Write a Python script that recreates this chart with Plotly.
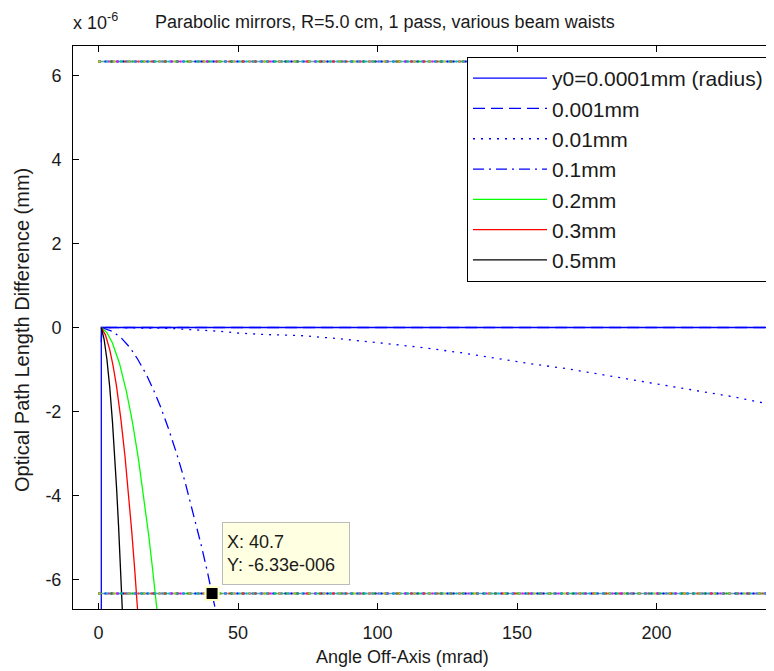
import plotly.graph_objects as go

# ---- data (OPD in units of 1e-6 mm, angle in mrad) ----
theta_a = [1.0, 1.0, 250.0]
opd_a = [-7.5, 0.0, 0.0]

theta_b = [1.0, 1.0, 1.2, 60.0, 120.0, 180.0, 250.0]
opd_b = [-0.35, -0.05, 0.0, 0.0, 0.0, 0.0, 0.0]

theta_c = [1, 10, 20, 25.6, 33, 41, 43.5, 49.5, 60.3, 72.2, 85, 100, 115, 130, 143.9, 155.7, 167.8, 179.9,
           191.6, 203.7, 215.8, 227.6, 243]
opd_c = [0, -0.005, -0.01, -0.02, -0.05, -0.07, -0.09, -0.13, -0.17, -0.19, -0.26, -0.36, -0.47, -0.60, -0.75,
         -0.87, -0.98, -1.12, -1.24, -1.38, -1.52, -1.65, -1.86]

theta_d = [1, 5, 8.3, 11.3, 14, 17.3, 20, 22.2, 25, 28.2, 31, 34.3, 37, 39.2, 40.7, 42.5]
opd_d = [0, -0.09, -0.26, -0.48, -0.75, -1.14, -1.53, -1.88, -2.39, -3.04, -3.67, -4.49, -5.23, -5.87, -6.33, -6.9]

theta_e = [1, 3, 5, 7.5, 10, 12, 14.3, 16, 18, 19.3, 20.35, 21.2]
opd_e = [0, -0.12, -0.37, -0.85, -1.52, -2.19, -3.12, -3.91, -4.95, -5.7, -6.33, -6.87]

theta_f = [1, 2.5, 4, 5.2, 6.4, 8, 9.5, 10.8, 11.9, 13, 13.6, 14.3]
opd_f = [0, -0.18, -0.52, -0.9, -1.37, -2.17, -3.07, -3.98, -4.84, -5.78, -6.33, -7.0]

theta_g = [1, 2, 3, 4, 5, 5.8, 6.5, 7.2, 7.8, 8.3, 8.7]
opd_g = [0, -0.28, -0.75, -1.4, -2.24, -3.04, -3.85, -4.74, -5.58, -6.33, -6.96]

labels = ["y0=0.0001mm (radius)", "0.001mm", "0.01mm", "0.1mm", "0.2mm", "0.3mm", "0.5mm"]

x_tickvals = [0, 50, 100, 150, 200]
x_ticktext = ["0", "50", "100", "150", "200"]
y_tickvals = [-6, -4, -2, 0, 2, 4, 6]
y_ticktext = ["-6", "-4", "-2", "0", "2", "4", "6"]

theta_ref = [0.0, 250.0]
ref_levels = [6.33, -6.33]

tip_x = 40.7
tip_y = -6.33

# ---- figure ----
W, H = 774, 671
OFF = 8  # page body margin offset
L, R, T, B = 65, 8, 38, 70
pw, ph = W - L - R, H - T - B


def px(sx):
    return (sx - OFF - L) / pw


def py(sy):
    return (H - B - (sy - OFF)) / ph


FONT = "Liberation Sans, Arial, sans-serif"
TXT = "#1a1a1a"
fig = go.Figure()

series = [
    (theta_a, opd_a, "#0000FF", "solid"),
    (theta_b, opd_b, "#0000FF", "12px,6px"),
    (theta_c, opd_c, "#0000FF", "2px,6px"),
    (theta_d, opd_d, "#0000FF", "11px,5px,2px,5px"),
    (theta_e, opd_e, "#00FF00", "solid"),
    (theta_f, opd_f, "#FF0000", "solid"),
    (theta_g, opd_g, "#000000", "solid"),
]
for i, (xs, ys, col, dash) in enumerate(series):
    fig.add_trace(go.Scatter(
        x=xs, y=ys, mode="lines", name=labels[i], legendgroup=f"g{i}",
        line=dict(color=col, width=1.3, dash=dash),
    ))

# multi-coloured dotted reference lines
overlays = [
    ("#5ea6a8", "solid", 1.5),
    ("#0000FF", "2px,4px", 2),
    ("#FF00FF", "2px,7px", 2),
    ("#00C000", "2px,9px", 2),
    ("#FF3000", "2px,11px", 2),
    ("#00C0C0", "2px,5px", 2),
    ("#C8C800", "2px,13px", 2),
]
for lev in ref_levels:
    for col, dash, w in overlays:
        fig.add_trace(go.Scatter(
            x=theta_ref, y=[lev, lev], mode="lines", showlegend=False,
            line=dict(color=col, width=w, dash=dash), hoverinfo="skip",
        ))

fig.add_trace(go.Scatter(
    x=[tip_x], y=[tip_y], mode="markers", showlegend=False,
    marker=dict(symbol="square", size=13, color="black",
                line=dict(color="#FFFFC8", width=2)),
))

axis_common = dict(
    showgrid=False, zeroline=False, showline=True, linecolor="black", linewidth=1,
    ticks="inside", ticklen=6, tickcolor="black", tickwidth=1,
    tickfont=dict(family=FONT, size=18, color=TXT),
    ticklabelstandoff=7,
)
fig.update_layout(
    width=W, height=H,
    margin=dict(l=L, r=R, t=T, b=B),
    paper_bgcolor="white", plot_bgcolor="white",
    xaxis=dict(range=[-9.14, 242.1], tickvals=x_tickvals, ticktext=x_ticktext,
               mirror="ticks", **axis_common),
    yaxis=dict(range=[-6.7, 6.7], tickvals=y_tickvals, ticktext=y_ticktext,
               mirror=False, **axis_common),
    showlegend=True,
    legend=dict(
        x=px(467), y=py(57), xanchor="left", yanchor="top",
        bgcolor="white", bordercolor="black", borderwidth=1,
        font=dict(family=FONT, size=21, color=TXT),
        tracegroupgap=0, itemwidth=74,
    ),
    annotations=[
        dict(text="Parabolic mirrors, R=5.0 cm, 1 pass, various beam waists",
             x=px(385), y=py(22), xref="paper", yref="paper",
             xanchor="center", yanchor="middle", showarrow=False,
             font=dict(family=FONT, size=18, color=TXT)),
        dict(text="x 10<sup>-6</sup>",
             x=px(71), y=py(22), xref="paper", yref="paper",
             xanchor="left", yanchor="middle", showarrow=False,
             font=dict(family=FONT, size=18, color=TXT)),
        dict(text="Angle Off-Axis (mrad)",
             x=px(402), y=py(657), xref="paper", yref="paper",
             xanchor="center", yanchor="middle", showarrow=False,
             font=dict(family=FONT, size=18, color=TXT)),
        dict(text="Optical Path Length Difference (mm)", textangle=-90,
             x=px(22), y=py(330), xref="paper", yref="paper",
             xanchor="center", yanchor="middle", showarrow=False,
             font=dict(family=FONT, size=20, color=TXT)),
        dict(text=f"X: {tip_x}<br>Y: {tip_y:.2f}e-006",
             x=px(222), y=py(522), xref="paper", yref="paper",
             xanchor="left", yanchor="top", showarrow=False, align="left",
             width=118, height=53, borderpad=4,
             bgcolor="#FFFFE1", bordercolor="#BBBBBB", borderwidth=1,
             font=dict(family=FONT, size=18, color=TXT)),
    ],
)

fig.write_html("out.html")
